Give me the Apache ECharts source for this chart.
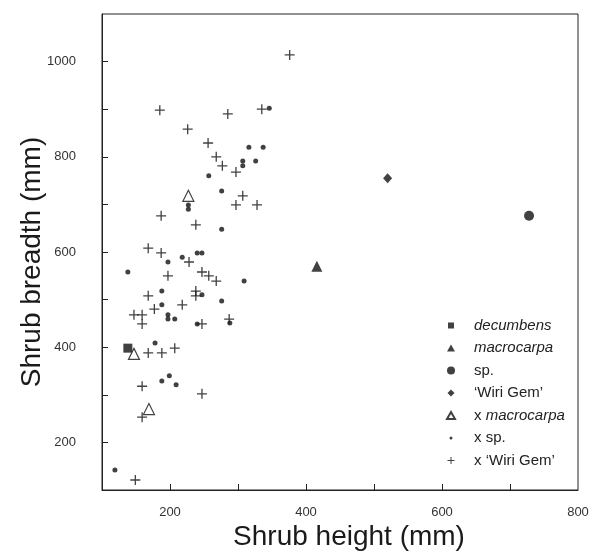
<!DOCTYPE html>
<html>
<head>
<meta charset="utf-8">
<script src="https://cdn.jsdelivr.net/npm/echarts@6/dist/echarts.min.js"></script>
<style>
html,body{margin:0;padding:0;background:#fff;}
#chart{width:606px;height:559px;}
</style>
</head>
<body>
<div id="chart"></div>
<script>
// ---- data (height mm, breadth mm) ----
const decumbens = [[138, 398]];
const macrocarpa = [[416, 570]];
const spPts = [[728, 676]];
const wiriGem = [[520, 755]];
const xMacrocarpa = [[227, 718], [147, 386], [169, 270]];
const xSp = [
  [346, 902], [316, 820], [337, 820], [307, 791], [326, 791], [307, 781], [257, 760],
  [276, 728], [227, 699], [227, 690], [276, 648], [240, 598], [247, 598], [218, 589],
  [197, 579], [138, 558], [309, 539], [188, 518], [247, 510], [276, 497], [188, 489],
  [197, 468], [197, 459], [207, 459], [240, 449], [288, 451], [178, 409], [199, 340],
  [188, 329], [209, 321], [119, 142]
];
const xWiriGem = [
  [376, 1014], [185, 898], [285, 890], [335, 900], [226, 858], [256, 829], [268, 800],
  [277, 781], [297, 768], [187, 676], [238, 657], [307, 718], [297, 699], [328, 699],
  [168, 608], [187, 598], [228, 579], [247, 558], [257, 550], [268, 539], [197, 550],
  [168, 508], [238, 518], [238, 508], [177, 480], [218, 489], [147, 468], [159, 468],
  [159, 449], [247, 449], [287, 459], [168, 388], [188, 388], [207, 398], [159, 318],
  [247, 302], [159, 253], [149, 121]
];
const xTickValues = [200, 300, 400, 500, 600, 700];
const xLabelValues = [200, 400, 600, 800];
const yTickValues = [200, 300, 400, 500, 600, 700, 800, 900, 1000];
const yLabelValues = [200, 400, 600, 800, 1000];
const seriesNames = ['decumbens', 'macrocarpa', 'sp.', '\u2018Wiri Gem\u2019', 'x macrocarpa', 'x sp.', 'x \u2018Wiri Gem\u2019'];

const FONT = '"Liberation Sans", Arial, Helvetica, sans-serif';
const INK = '#111';
const AX = '#222';
const PLUS = 'path://M4.35,0H5.65V4.35H10V5.65H5.65V10H4.35V5.65H0V4.35H4.35Z';

const icons = [
  'path://M0,0M10,10M2,2H8V8H2Z',
  'path://M0,0M10,10M5,1.5L9,8.5H1Z',
  'path://M0,0M10,10M1,5A4,4,0,1,0,9,5A4,4,0,1,0,1,5Z',
  'path://M0,0M10,10M5,1.5L8.5,5L5,8.5L1.5,5Z',
  'path://M0,0M10,10M5,1.5L9,8.5H1Z',
  'path://M0,0M10,10M3.5,5A1.5,1.5,0,1,0,6.5,5A1.5,1.5,0,1,0,3.5,5Z',
  'path://M0,0M10,10M4.5,1.5H5.5V4.5H8.5V5.5H5.5V8.5H4.5V5.5H1.5V4.5H4.5Z'
];

const chart = echarts.init(document.getElementById('chart'), null, {renderer: 'canvas'});

function axisCommon() {
  return {
    type: 'value',
    axisLine: {show: true, onZero: false, lineStyle: {color: AX, width: 1}},
    splitLine: {show: false},
    nameLocation: 'middle',
    nameMoveOverlap: false
  };
}

const option = {
  animation: false,
  backgroundColor: '#fff',
  grid: {left: 102, top: 14, width: 476, height: 476, show: true, borderColor: AX, borderWidth: 1, outerBoundsMode: 'none'},
  xAxis: Object.assign(axisCommon(), {
    min: 100, max: 800,
    name: 'Shrub height (mm)', nameGap: 33,
    nameTextStyle: {fontSize: 28, fontFamily: FONT, color: '#1a1a1a', padding: [0, 0, 0, 18]},
    axisTick: {show: true, inside: true, length: 6, customValues: xTickValues, lineStyle: {color: AX}},
    axisLabel: {customValues: xLabelValues, margin: 16, fontSize: 13, color: '#333', fontFamily: FONT,
      formatter: v => String(v)}
  }),
  yAxis: Object.assign(axisCommon(), {
    min: 100, max: 1100,
    name: 'Shrub breadth (mm)', nameGap: 56,
    nameTextStyle: {fontSize: 28, fontFamily: FONT, color: '#1a1a1a', padding: [0, 20, 0, 0]},
    axisTick: {show: true, inside: true, length: 6, customValues: yTickValues, lineStyle: {color: AX}},
    axisLabel: {customValues: yLabelValues, margin: 26, fontSize: 13, color: '#333', fontFamily: FONT,
      formatter: v => String(v)}
  }),
  legend: {
    orient: 'vertical', left: 440, top: 313,
    itemWidth: 10, itemHeight: 10, itemGap: 7.5,
    selectedMode: false,
    textStyle: {fontSize: 15, fontFamily: FONT, color: '#222', padding: [0, 0, 0, 13],
      rich: {i: {fontStyle: 'italic', fontSize: 15, fontFamily: FONT, color: '#222'}}},
    formatter: function (n) {
      if (n === 'decumbens' || n === 'macrocarpa') return '{i|' + n + '}';
      if (n === 'x macrocarpa') return 'x {i|macrocarpa}';
      return n;
    },
    data: seriesNames.map((n, i) => ({name: n, icon: icons[i]}))
  },
  series: [
    {name: seriesNames[0], type: 'scatter', data: decumbens, symbol: 'rect', symbolSize: 9, itemStyle: {color: INK}},
    {name: seriesNames[1], type: 'scatter', data: macrocarpa, symbol: 'triangle', symbolSize: 11, itemStyle: {color: INK}},
    {name: seriesNames[2], type: 'scatter', data: spPts, symbol: 'circle', symbolSize: 10, itemStyle: {color: INK}},
    {name: seriesNames[3], type: 'scatter', data: wiriGem, symbol: 'diamond', symbolSize: [9, 10], itemStyle: {color: INK}},
    {name: seriesNames[4], type: 'scatter', data: xMacrocarpa, symbol: 'triangle', symbolSize: 11,
      itemStyle: {color: '#fff', borderColor: INK, borderWidth: 1.2}},
    {name: seriesNames[5], type: 'scatter', data: xSp, symbol: 'circle', symbolSize: 5, itemStyle: {color: INK}},
    {name: seriesNames[6], type: 'scatter', data: xWiriGem, symbol: PLUS, symbolSize: 10, itemStyle: {color: INK}}
  ].map(s => Object.assign(s, {silent: true}))
};
chart.setOption(option);
</script>
</body>
</html>
